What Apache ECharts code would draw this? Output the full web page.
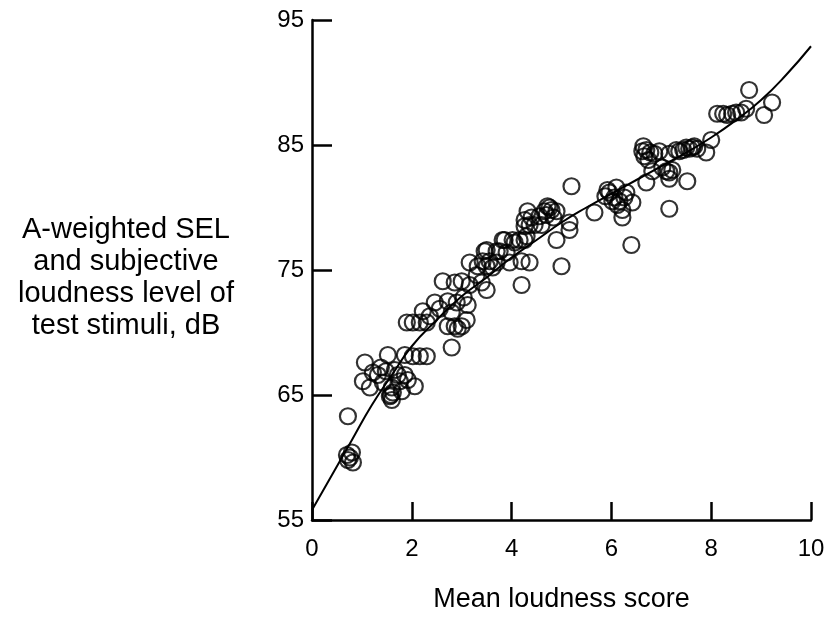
<!DOCTYPE html>
<html>
<head>
<meta charset="utf-8">
<script src="https://cdn.jsdelivr.net/npm/echarts@6/dist/echarts.min.js"></script>
<style>
  html, body { margin: 0; padding: 0; background: #fff; }
  #chart { width: 830px; height: 635px; }
</style>
</head>
<body>
<div id="chart"></div>
<script>
// Mean loudness score (x) against level in dB (y) for each test stimulus
const stimulusPoints = [
  [0.72,63.3],[0.70,60.2],[0.80,60.4],[0.72,59.8],[0.82,59.6],[0.76,60.0],
  [1.06,67.6],[1.02,66.1],[1.16,65.6],[1.22,66.8],[1.32,66.6],[1.42,66.0],[1.52,68.2],
  [1.60,65.6],[1.56,64.9],[1.60,64.6],[1.62,65.2],[1.58,65.0],[1.72,66.6],[1.86,66.6],
  [1.76,66.1],[1.92,66.2],[2.06,65.7],[1.80,65.3],[1.86,68.2],[2.02,68.1],[2.16,68.1],
  [2.30,68.1],[1.48,66.9],[1.66,67.0],[1.38,67.2],
  [1.90,70.8],[2.02,70.8],[2.16,70.8],[2.30,70.8],[2.22,71.7],[2.36,71.3],[2.46,72.4],
  [2.72,72.5],[2.62,74.1],[2.72,70.5],[2.86,70.5],[3.00,70.5],[3.10,71.0],[3.12,72.2],
  [2.90,72.4],[2.86,74.0],[3.00,74.1],[3.16,73.8],[3.40,74.0],[3.50,73.4],[2.80,68.8],
  [2.56,71.9],[2.80,71.6],[2.92,70.3],[3.04,72.8],
  [3.16,75.6],[3.32,75.3],[3.42,75.7],[3.56,75.7],[3.46,76.5],[3.70,76.5],[3.82,77.4],
  [4.06,77.2],[4.20,73.8],[3.96,75.6],[4.26,78.5],[4.26,77.4],[3.50,76.6],[3.50,75.3],
  [3.70,75.6],[3.90,76.4],[3.76,76.5],[3.86,77.4],[4.02,77.4],[4.16,77.4],[4.20,75.7],
  [4.36,75.6],[4.30,77.7],[3.62,75.2],[3.30,74.6],
  [4.32,79.7],[4.26,79.0],[4.36,78.6],[4.46,78.6],[4.60,78.6],[4.66,79.7],[4.76,80.0],
  [4.90,79.7],[4.56,79.3],[4.70,79.4],[4.80,79.8],[4.84,79.2],[4.90,77.4],[5.16,78.2],
  [5.16,78.8],[5.00,75.3],[5.20,81.7],[4.40,79.2],[4.72,80.1],
  [5.66,79.6],[5.92,81.4],[6.10,81.6],[6.30,81.2],[6.16,80.5],[6.02,80.5],[6.42,80.4],
  [6.22,79.8],[6.22,79.2],[6.40,77.0],[5.96,81.2],[6.06,80.8],[6.12,80.2],[6.26,80.8],
  [5.88,80.9],
  [6.70,82.0],[6.82,82.9],[7.02,83.2],[7.16,82.8],[7.22,83.0],[7.10,82.9],[7.52,82.1],
  [6.62,84.5],[6.70,84.6],[6.78,84.4],[6.86,84.3],[6.96,84.5],[7.16,82.3],[7.16,79.9],
  [7.36,84.5],[7.44,84.6],[7.50,84.8],[7.56,84.7],[7.62,84.8],[7.16,84.3],[6.66,84.1],
  [6.64,84.9],[6.74,83.8],[7.30,84.6],[7.66,84.9],[7.72,84.7],
  [7.90,84.4],[8.00,85.4],[8.12,87.5],[8.24,87.5],[8.32,87.4],[8.42,87.5],[8.50,87.6],
  [8.60,87.6],[8.70,87.9],[8.76,89.4],[9.06,87.4],[9.22,88.4]
];

// Fitted relation, sampled along the drawn curve
const fitScores = [0, 0.4, 0.8, 1.2, 1.6, 2.0, 2.5, 3.0, 3.5, 4.0, 4.5, 5.0, 5.5, 6.0, 6.5, 7.0, 7.5, 8.0, 8.5, 9.0, 9.5, 10.0];
const fitLevels = [55.8, 58.6, 61.4, 64.2, 66.6, 68.9, 71.0, 72.9, 74.4, 76.0, 77.4, 78.8, 80.0, 81.1, 82.2, 83.3, 84.4, 85.6, 87.0, 88.6, 90.6, 92.9];

const xTicks = { min: 0, max: 10, step: 2 };
const yTicks = { min: 55, max: 95, step: 10 };

const xTitle = 'Mean loudness score';
const yTitle = 'A-weighted SEL\nand subjective\nloudness level of\ntest stimuli, dB';

const FONT = '"Liberation Sans", Arial, Helvetica, sans-serif';
const INK = '#000';

const chart = echarts.init(document.getElementById('chart'), null, { renderer: 'canvas' });

const axisCommon = {
  axisLine: { show: true, onZero: false, lineStyle: { color: INK, width: 2.5 } },
  axisTick: { show: true, inside: true, lineStyle: { color: INK, width: 2.5 } },
  axisLabel: { color: INK, fontFamily: FONT, fontSize: 24 },
  splitLine: { show: false },
  nameTextStyle: { color: INK, fontFamily: FONT }
};

chart.setOption({
  animation: false,
  backgroundColor: '#fff',
  // Y-axis caption sits as a free-standing block left of the axis
  title: {
    text: yTitle,
    left: 121,
    top: 209,
    textAlign: 'center',
    textStyle: {
      color: INK, fontFamily: FONT, fontSize: 29, fontWeight: 'normal',
      lineHeight: 32, align: 'center'
    }
  },
  grid: { left: 312, top: 20, width: 499, height: 500, containLabel: false },
  xAxis: Object.assign({}, axisCommon, {
    type: 'value',
    min: xTicks.min, max: xTicks.max, interval: xTicks.step,
    axisTick: Object.assign({}, axisCommon.axisTick, { length: 18 }),
    axisLabel: Object.assign({}, axisCommon.axisLabel, { margin: 17 }),
    name: xTitle,
    nameLocation: 'middle',
    nameGap: 66,
    nameTextStyle: { color: INK, fontFamily: FONT, fontSize: 27 }
  }),
  yAxis: Object.assign({}, axisCommon, {
    type: 'value',
    min: yTicks.min, max: yTicks.max, interval: yTicks.step,
    axisTick: Object.assign({}, axisCommon.axisTick, { length: 20 }),
    axisLabel: Object.assign({}, axisCommon.axisLabel, { margin: 8 })
  }),
  series: [
    {
      type: 'line',
      data: fitScores.map((s, i) => [s, fitLevels[i]]),
      smooth: true,
      showSymbol: false,
      lineStyle: { color: INK, width: 2 },
      z: 2
    },
    {
      type: 'scatter',
      data: stimulusPoints,
      symbol: 'circle',
      symbolSize: 16,
      itemStyle: { color: 'rgba(0,0,0,0)', borderColor: INK, borderWidth: 2.2 },
      z: 3
    }
  ]
});
</script>
</body>
</html>
